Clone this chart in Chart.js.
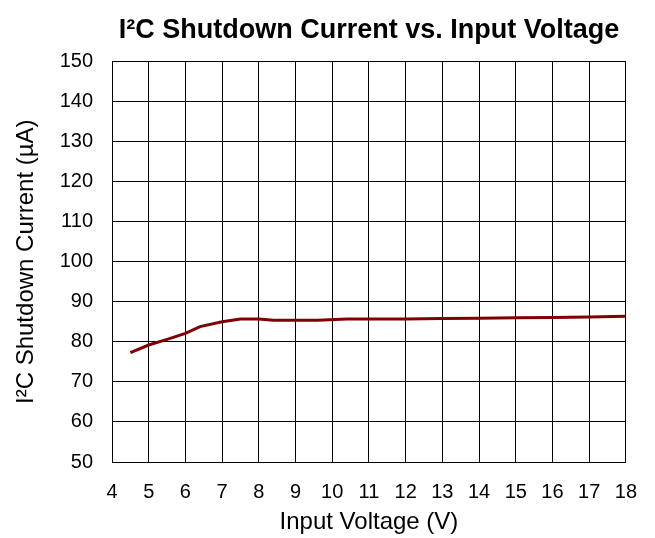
<!DOCTYPE html>
<html>
<head>
<meta charset="utf-8">
<script src="https://cdn.jsdelivr.net/npm/chart.js"></script>
<style>
  body { margin: 0; background: #fff; }
</style>
</head>
<body>
<canvas id="c" width="655" height="538"></canvas>
<script>
// data
var voltage = [4.5, 5, 5.5, 6, 6.4, 7, 7.5, 8, 8.4, 9, 9.6, 10.4, 11, 12, 13, 14, 15, 16, 17, 18];
var current = [77.3, 79.2, 80.6, 82.1, 83.8, 85.0, 85.7, 85.7, 85.4, 85.4, 85.4, 85.7, 85.7, 85.7, 85.8, 85.9, 86.0, 86.1, 86.2, 86.4];
var xTicks = [4, 5, 6, 7, 8, 9, 10, 11, 12, 13, 14, 15, 16, 17, 18];
var yTicks = [50, 60, 70, 80, 90, 100, 110, 120, 130, 140, 150];

var points = voltage.map(function (v, i) { return { x: v, y: current[i] }; });

Chart.defaults.font.family = 'Arial, "Liberation Sans", sans-serif';
Chart.defaults.color = '#000';

new Chart(document.getElementById('c').getContext('2d'), {
    type: 'line',
    data: {
        datasets: [{
            data: points,
            borderColor: '#800000',
            borderWidth: 3,
            pointRadius: 0,
            tension: 0,
            fill: false
        }]
    },
    options: {
        responsive: false,
        animation: false,
        devicePixelRatio: 1,
        layout: { padding: { left: 0, right: 29, top: 0, bottom: 0 } },
        plugins: {
            legend: { display: false },
            tooltip: { enabled: false },
            title: {
                display: true,
                fullSize: false,
                text: 'I²C Shutdown Current vs. Input Voltage',
                font: { size: 27, weight: 'bold' },
                color: '#000',
                padding: { top: 14, bottom: 15 }
            }
        },
        scales: {
            x: {
                type: 'linear',
                min: 4,
                max: 18,
                afterBuildTicks: function (ax) { ax.ticks = xTicks.map(function (v) { return { value: v }; }); },
                ticks: { font: { size: 20 }, padding: 18, maxRotation: 0 },
                grid: { color: '#000', lineWidth: 1, drawTicks: false },
                border: { color: '#000', width: 1 },
                title: { display: true, text: 'Input Voltage (V)', font: { size: 24 }, padding: { top: 0, bottom: 1 } },
                afterFit: function (ax) { ax.height = 76; }
            },
            y: {
                min: 50,
                max: 150,
                afterBuildTicks: function (ax) { ax.ticks = yTicks.map(function (v) { return { value: v }; }); },
                ticks: { font: { size: 20 }, padding: 19 },
                grid: { color: '#000', lineWidth: 1, drawTicks: false },
                border: { color: '#000', width: 1 },
                title: { display: true, text: 'I²C Shutdown Current (µA)', font: { size: 24 }, padding: { top: 12, bottom: 0 } },
                afterFit: function (ax) { ax.width = 112; }
            }
        }
    },
    plugins: [{
        id: 'bg',
        beforeDraw: function (chart) {
            var ctx = chart.ctx;
            ctx.save();
            ctx.fillStyle = '#fff';
            ctx.fillRect(0, 0, chart.width, chart.height);
            ctx.restore();
        }
    }]
});
</script>
</body>
</html>
